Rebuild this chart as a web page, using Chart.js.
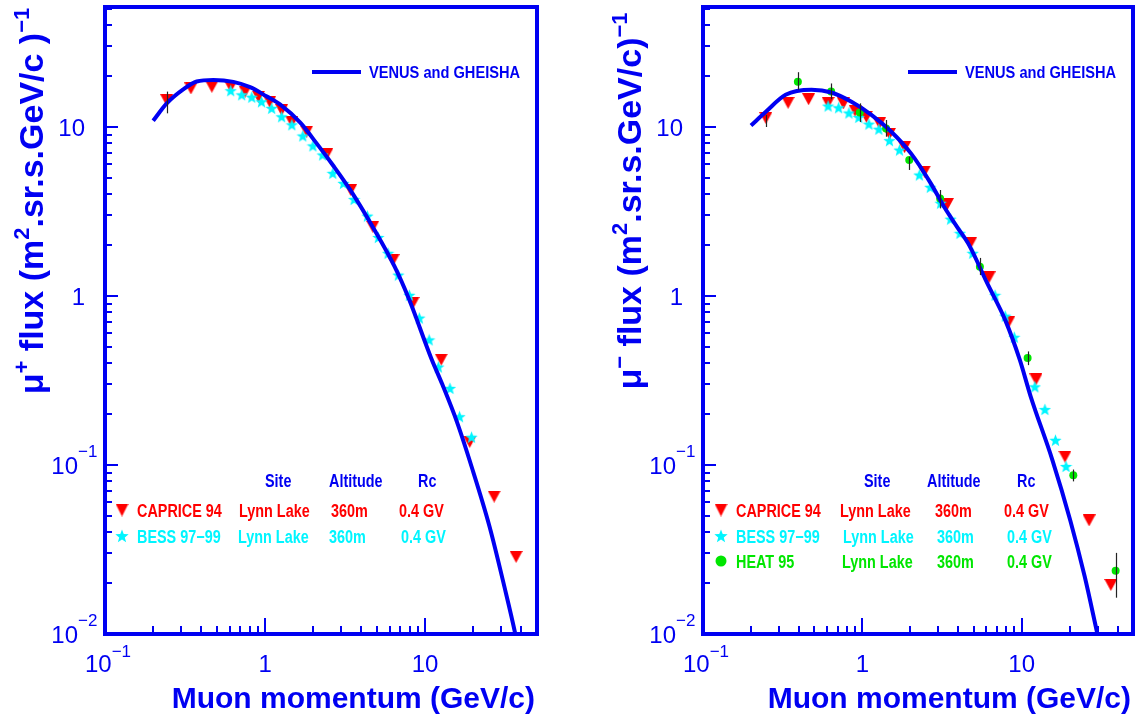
<!DOCTYPE html>
<html lang="en">
<head>
<meta charset="UTF-8">
<title>Muon flux - Lynn Lake</title>
<style>
    body { margin: 0; background: #fff; }
    .painel { position: absolute; top: 0; width: 570px; height: 720px; }
</style>
</head>
<body>
<canvas id="fluxPlus" class="painel" width="570" height="720" style="left:0"></canvas>
<canvas id="fluxMinus" class="painel" width="570" height="720" style="left:570px"></canvas>

<script src="https://cdn.jsdelivr.net/npm/chart.js"></script>
<script>
// ---- dados: painel mu+ ----
const curvaPlusX = [0.200, 0.243, 0.308, 0.374, 0.475, 0.634, 0.806, 1.02, 1.24, 1.66, 2.10, 2.67, 3.43, 4.71, 6.45, 7.96, 10.9, 12.8, 15.8, 19.5, 25.3, 31.3, 36.6, 40.0];
const curvaPlusY = [10.9, 13.8, 16.7, 18.6, 19.0, 18.5, 17.2, 15.2, 13.6, 10.6, 8.0, 5.9, 4.2, 2.56, 1.49, 0.95, 0.43, 0.30, 0.18, 0.098, 0.043, 0.019, 0.010, 0.0065];

const capricePlusX = [0.243, 0.344, 0.465, 0.61, 0.75, 0.91, 1.07, 1.27, 1.47, 1.82, 2.43, 3.43, 4.71, 6.3, 8.4, 12.6, 19.0, 27, 37];
const capricePlusY = [14.4, 16.9, 17.3, 17.3, 16.2, 15.1, 14.1, 12.6, 10.7, 9.4, 6.9, 4.24, 2.57, 1.63, 0.91, 0.42, 0.137, 0.065, 0.0286];

const bessPlusX = [0.61, 0.715, 0.826, 0.95, 1.10, 1.27, 1.47, 1.72, 1.99, 2.29, 2.65, 3.09, 3.6, 4.36, 5.1, 5.87, 6.8, 7.97, 9.2, 10.6, 12.1, 14.3, 16.4, 19.5];
const bessPlusY = [16.4, 15.5, 15.0, 14.1, 12.9, 11.5, 10.3, 8.85, 7.73, 6.83, 5.32, 4.64, 3.73, 2.97, 2.22, 1.79, 1.33, 1.01, 0.74, 0.55, 0.38, 0.284, 0.193, 0.146];

const erroPlusX = [0.243];
const erroPlusLo = [12.05];
const erroPlusHi = [16.2];

// ---- dados: painel mu- ----
const curvaMinusX = [0.200, 0.248, 0.33, 0.48, 0.64, 0.855, 1.14, 1.52, 2.02, 2.69, 3.26, 3.95, 4.68, 6.08, 7.89, 9.73, 11.4, 15.6, 20.2, 24.9, 29.9, 33.0];
const curvaMinusY = [10.2, 12.3, 15.5, 16.6, 16.0, 14.1, 11.8, 9.38, 6.98, 4.64, 3.37, 2.55, 2.0, 1.19, 0.72, 0.42, 0.254, 0.107, 0.047, 0.0218, 0.010, 0.0066];

const capriceMinusX = [0.248, 0.342, 0.46, 0.61, 0.76, 0.90, 1.06, 1.28, 1.48, 1.84, 2.45, 3.42, 4.8, 6.24, 8.32, 12.3, 18.7, 26.5, 36.3];
const capriceMinusY = [11.3, 13.9, 14.6, 13.9, 13.8, 12.5, 11.5, 10.5, 9.1, 7.6, 5.45, 3.5, 2.07, 1.29, 0.705, 0.321, 0.112, 0.047, 0.0195];

const bessMinusX = [0.61, 0.71, 0.824, 0.95, 1.10, 1.27, 1.48, 1.71, 2.28, 2.67, 3.10, 3.58, 4.10, 4.93, 6.81, 7.89, 8.99, 12.1, 14.0, 16.3, 19.0];
const bessMinusY = [13.3, 13.0, 12.1, 11.4, 10.4, 9.7, 8.3, 7.3, 5.2, 4.4, 3.54, 2.85, 2.35, 1.79, 1.01, 0.76, 0.57, 0.29, 0.213, 0.14, 0.098];

const heatMinusX = [0.394, 0.637, 0.964, 1.41, 1.97, 3.08, 5.47, 10.9, 21.1, 38.9];
const heatMinusY = [18.5, 16.2, 12.2, 9.8, 6.38, 3.78, 1.49, 0.43, 0.087, 0.0237];

const erroMinusX = [0.248, 0.394, 0.637, 0.964, 1.41, 1.97, 3.08, 5.47, 10.9, 21.1, 38.9];
const erroMinusLo = [10.0, 16.6, 14.6, 10.7, 8.76, 5.57, 3.3, 1.33, 0.39, 0.080, 0.0164];
const erroMinusHi = [11.8, 21.1, 18.1, 13.8, 11.0, 6.67, 4.24, 1.68, 0.47, 0.094, 0.0302];

// ---- eixos ----
const yTickVal = [0.01, 0.1, 1, 10];
const yTickBase = ['10', '10', '1', '10'];
const yTickExp = ['\u22122', '\u22121', '', ''];
const xTickVal = [0.1, 1, 10];
const xTickBase = ['10', '1', '10'];
const xTickExp = ['\u22121', '', ''];

const tituloX = 'Muon momentum (GeV/c)';
const tituloYPlus = [['\u03bc', 0], ['+', 1], [' flux (m', 0], ['2', 1], ['.sr.s.GeV/c )', 0], ['\u22121', 1]];
const tituloYMinus = [['\u03bc', 0], ['\u2212', 1], [' flux (m', 0], ['2', 1], ['.sr.s.GeV/c)', 0], ['\u22121', 1]];

const nomeModelo = 'VENUS and GHEISHA';
const cabecalho = ['Site', 'Altitude', 'Rc'];
const linhasPlus = [
    ['CAPRICE 94', 'Lynn Lake', '360m', '0.4 GV'],
    ['BESS 97\u221299', 'Lynn Lake', '360m', '0.4 GV']
];
const linhasMinus = [
    ['CAPRICE 94', 'Lynn Lake', '360m', '0.4 GV'],
    ['BESS 97\u221299', 'Lynn Lake', '360m', '0.4 GV'],
    ['HEAT 95', 'Lynn Lake', '360m', '0.4 GV']
];

const AZUL = '#0000f2';
const VERMELHO = '#ff0000';
const CIANO = '#00f5ff';
const VERDE = '#00e600';
const FONTE = '"Liberation Sans", Arial, sans-serif';

// ---- marcadores ----
function marcaTriangulo(w, h) {
    const c = document.createElement('canvas');
    c.width = w; c.height = h;
    const g = c.getContext('2d');
    g.fillStyle = VERMELHO;
    g.beginPath();
    g.moveTo(0, 0); g.lineTo(w, 0); g.lineTo(w / 2, h);
    g.closePath(); g.fill();
    return c;
}

function marcaEstrela(s) {
    const c = document.createElement('canvas');
    c.width = s; c.height = s;
    const g = c.getContext('2d');
    const r1 = s / 2, r2 = s / 2 * 0.42;
    g.fillStyle = CIANO;
    g.beginPath();
    for (let i = 0; i < 10; i++) {
        const r = i % 2 === 0 ? r1 : r2;
        const ang = -Math.PI / 2 + i * Math.PI / 5;
        const px = s / 2 + r * Math.cos(ang), py = s / 2 + 0.5 + r * Math.sin(ang);
        if (i === 0) g.moveTo(px, py); else g.lineTo(px, py);
    }
    g.closePath(); g.fill();
    return c;
}

const triPlot = marcaTriangulo(13, 12);
const estPlot = marcaEstrela(13);
const triLeg = marcaTriangulo(13, 13);
const estLeg = marcaEstrela(14);

function pares(xs, ys) {
    return xs.map((x, i) => ({ x: x, y: ys[i] }));
}

// ---- texto ----
function textoRico(ctx, partes, x, y, fonte, fonteSup, subir) {
    partes.forEach(p => {
        ctx.font = p[1] ? fonteSup : fonte;
        ctx.fillText(p[0], x, p[1] ? y - subir : y);
        x += ctx.measureText(p[0]).width;
    });
}

function larguraRica(ctx, partes, fonte, fonteSup) {
    let w = 0;
    partes.forEach(p => {
        ctx.font = p[1] ? fonteSup : fonte;
        w += ctx.measureText(p[0]).width;
    });
    return w;
}

function textoEstreito(ctx, s, x, y, esc) {
    ctx.save();
    ctx.translate(x, y);
    ctx.scale(esc, 1);
    ctx.fillText(s, 0, 0);
    ctx.restore();
}

const molduraPlugin = {
    id: 'moldura',
    afterDatasetsDraw(chart, args, cfg) {
        const ctx = chart.ctx, a = chart.chartArea;
        const xs = chart.scales.x, ys = chart.scales.y;
        ctx.save();

        // barras de erro
        ctx.strokeStyle = '#222';
        ctx.lineWidth = 1.2;
        for (let i = 0; i < cfg.erroX.length; i++) {
            const px = Math.round(xs.getPixelForValue(cfg.erroX[i])) + 0.5;
            ctx.beginPath();
            ctx.moveTo(px, ys.getPixelForValue(cfg.erroLo[i]));
            ctx.lineTo(px, ys.getPixelForValue(cfg.erroHi[i]));
            ctx.stroke();
        }

        // marcas dos eixos (para dentro)
        ctx.strokeStyle = AZUL;
        ctx.lineWidth = 2;
        for (let d = -2; d <= 1; d++) {
            for (let m = 1; m <= 9; m++) {
                const v = m * Math.pow(10, d);
                if (v <= ys.min * 1.001 || v >= ys.max) continue;
                const py = Math.round(ys.getPixelForValue(v));
                ctx.beginPath();
                ctx.moveTo(a.left, py);
                ctx.lineTo(a.left + (m === 1 ? 13 : 7), py);
                ctx.stroke();
            }
        }
        for (let d = -1; d <= 1; d++) {
            for (let m = 1; m <= 9; m++) {
                const v = m * Math.pow(10, d);
                if (v <= xs.min * 1.001 || v >= xs.max) continue;
                const px = Math.round(xs.getPixelForValue(v));
                ctx.beginPath();
                ctx.moveTo(px, a.bottom);
                ctx.lineTo(px, a.bottom - (m === 1 ? 16 : 8));
                ctx.stroke();
            }
        }

        // moldura
        ctx.lineWidth = 4;
        ctx.strokeRect(a.left, a.top, a.right - a.left, a.bottom - a.top);

        // rotulos dos eixos
        ctx.fillStyle = AZUL;
        ctx.textBaseline = 'alphabetic';
        const fBase = '24px ' + FONTE, fExp = '17px ' + FONTE;
        yTickVal.forEach((v, i) => {
            const py = ys.getPixelForValue(v);
            ctx.font = fBase;
            const wb = ctx.measureText(yTickBase[i]).width;
            ctx.textAlign = 'left';
            if (yTickExp[i]) {
                ctx.fillText(yTickBase[i], a.left - 27 - wb, py + 8.5);
                ctx.font = fExp;
                ctx.fillText(yTickExp[i], a.left - 27, py - 8.5);
            } else {
                ctx.fillText(yTickBase[i], a.left - 20 - wb, py + 8.5);
            }
        });
        xTickVal.forEach((v, i) => {
            const px = xs.getPixelForValue(v);
            ctx.font = fBase;
            const wb = ctx.measureText(xTickBase[i]).width;
            ctx.font = fExp;
            const we = xTickExp[i] ? ctx.measureText(xTickExp[i]).width : 0;
            const x0 = px - (wb + we) / 2 + (we ? 3 : 0);
            ctx.textAlign = 'left';
            ctx.font = fBase;
            ctx.fillText(xTickBase[i], x0, 672);
            if (we) {
                ctx.font = fExp;
                ctx.fillText(xTickExp[i], x0 + wb, 657);
            }
        });

        // titulo X
        ctx.font = 'bold 30px ' + FONTE;
        ctx.textAlign = 'right';
        ctx.fillText(tituloX, a.right - 2, 708);

        // titulo Y (rodado)
        ctx.save();
        ctx.translate(a.left - 62, 201);
        ctx.rotate(-Math.PI / 2);
        ctx.textAlign = 'left';
        const fT = 'bold 34px ' + FONTE, fTs = 'bold 22px ' + FONTE;
        const wT = larguraRica(ctx, cfg.tituloY, fT, fTs);
        textoRico(ctx, cfg.tituloY, -wT / 2, 0, fT, fTs, 14);
        ctx.restore();

        // legenda do modelo
        ctx.lineWidth = 4;
        ctx.beginPath();
        ctx.moveTo(a.right - 225, 72);
        ctx.lineTo(a.right - 176, 72);
        ctx.stroke();
        ctx.font = 'bold 17px ' + FONTE;
        ctx.textAlign = 'left';
        textoEstreito(ctx, nomeModelo, a.right - 168, 77.5, 0.86);

        // tabela das experiencias
        const col = cfg.colunas;
        ctx.font = 'bold 18px ' + FONTE;
        ctx.fillStyle = AZUL;
        cabecalho.forEach((t, i) => textoEstreito(ctx, t, a.left + col.cab[i], 487, 0.8));
        const cores = [VERMELHO, CIANO, VERDE];
        const linhaY = [517, 543, 568];
        cfg.linhas.forEach((ln, r) => {
            ctx.fillStyle = cores[r];
            ln.forEach((t, i) => textoEstreito(ctx, t, a.left + col.txt[r][i], linhaY[r], 0.8));
            const mx = a.left + col.marca, my = linhaY[r] - 7;
            if (r === 0) ctx.drawImage(triLeg, mx - 6.5, my - 6.5);
            if (r === 1) ctx.drawImage(estLeg, mx - 7, my - 7);
            if (r === 2) {
                ctx.beginPath();
                ctx.arc(mx, my, 5.5, 0, Math.PI * 2);
                ctx.fill();
            }
        });

        ctx.restore();
    }
};

function criaPainel(id, pad, series, extra) {
    const ds = [{
        type: 'line',
        data: pares(series.curvaX, series.curvaY),
        borderColor: AZUL,
        borderWidth: 4,
        pointRadius: 0,
        cubicInterpolationMode: 'monotone',
        fill: false
    }];
    if (series.heatX) {
        ds.push({
            data: pares(series.heatX, series.heatY),
            pointStyle: 'circle',
            pointRadius: 4,
            pointBorderWidth: 0,
            backgroundColor: VERDE,
            borderColor: VERDE
        });
    }
    ds.push({
        data: pares(series.bessX, series.bessY),
        pointStyle: estPlot,
        pointRadius: 6
    });
    ds.push({
        data: pares(series.capX, series.capY),
        pointStyle: triPlot,
        pointRadius: 6
    });

    return new Chart(document.getElementById(id), {
        type: 'scatter',
        data: { datasets: ds },
        options: {
            responsive: false,
            animation: false,
            devicePixelRatio: 1,
            layout: { padding: pad },
            plugins: {
                legend: { display: false },
                tooltip: { enabled: false },
                moldura: extra
            },
            scales: {
                x: { type: 'logarithmic', min: 0.1, max: 50, display: false },
                y: { type: 'logarithmic', min: 0.01, max: 51.3, display: false }
            }
        },
        plugins: [molduraPlugin]
    });
}

criaPainel('fluxPlus', { left: 105, right: 33, top: 7, bottom: 86 }, {
    curvaX: curvaPlusX, curvaY: curvaPlusY,
    capX: capricePlusX, capY: capricePlusY,
    bessX: bessPlusX, bessY: bessPlusY
}, {
    erroX: erroPlusX, erroLo: erroPlusLo, erroHi: erroPlusHi,
    tituloY: tituloYPlus,
    linhas: linhasPlus,
    colunas: {
        marca: 17,
        cab: [160, 224, 313],
        txt: [[32, 134, 226, 294], [32, 133, 224, 296]]
    }
});

criaPainel('fluxMinus', { left: 133, right: 4, top: 7, bottom: 86 }, {
    curvaX: curvaMinusX, curvaY: curvaMinusY,
    capX: capriceMinusX, capY: capriceMinusY,
    bessX: bessMinusX, bessY: bessMinusY,
    heatX: heatMinusX, heatY: heatMinusY
}, {
    erroX: erroMinusX, erroLo: erroMinusLo, erroHi: erroMinusHi,
    tituloY: tituloYMinus,
    linhas: linhasMinus,
    colunas: {
        marca: 18,
        cab: [161, 224, 314],
        txt: [[33, 137, 232, 301], [33, 140, 234, 304], [33, 139, 234, 304]]
    }
});
</script>
</body>
</html>
